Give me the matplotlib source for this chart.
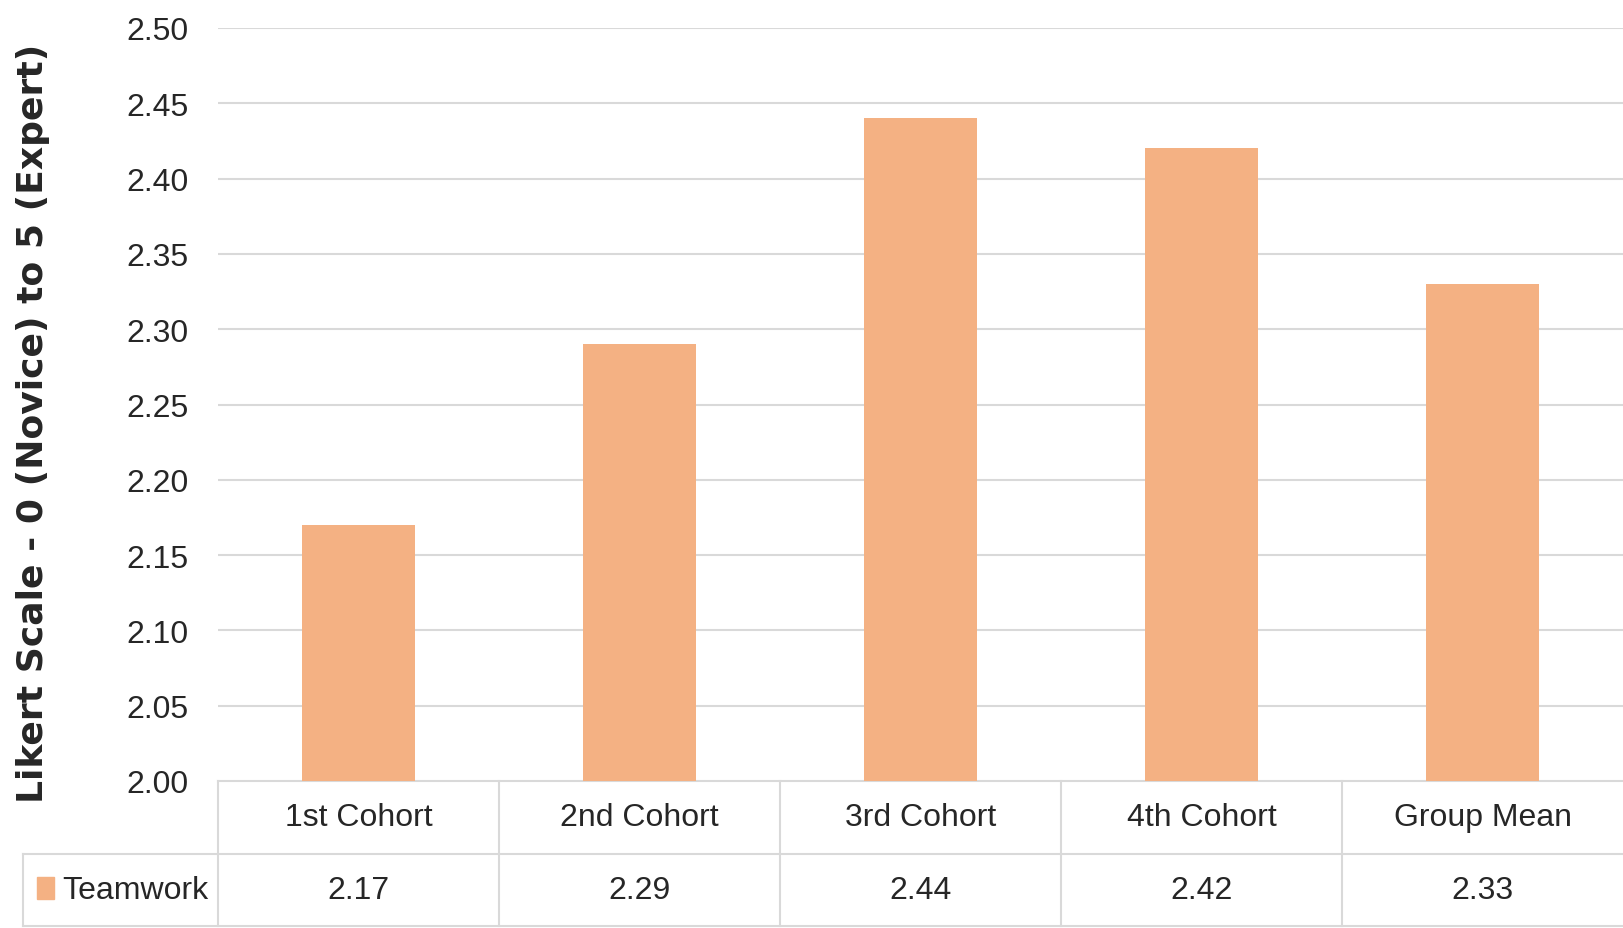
import matplotlib
matplotlib.use("Agg")
import matplotlib.pyplot as plt
from matplotlib.patches import Rectangle
from matplotlib.transforms import blended_transform_factory

categories = ["1st Cohort", "2nd Cohort", "3rd Cohort", "4th Cohort", "Group Mean"]
teamwork = [2.17, 2.29, 2.44, 2.42, 2.33]
series_name = "Teamwork"
yticks = [2.00, 2.05, 2.10, 2.15, 2.20, 2.25, 2.30, 2.35, 2.40, 2.45, 2.50]
ylabel = "Likert Scale - 0 (Novice) to 5 (Expert)"

bar_color = "#F4B183"
line_color = "#d9d9d9"
narrow = ["Liberation Sans", "DejaVu Sans"]
fs = 23

W, H = 1623, 929
fig = plt.figure(figsize=(W / 100, H / 100), dpi=100)
ax = fig.add_axes([218 / W, 1 - 782 / H, 1 - 218 / W, (782 - 29) / H])

x = list(range(len(categories)))
ax.bar(x, teamwork, width=0.4, color=bar_color, zorder=3)
ax.set_xlim(-0.5, len(categories) - 0.5)
ax.set_ylim(2.0, 2.5)
ax.set_yticks(yticks)
ax.set_yticklabels(["%.2f" % v for v in yticks], family=narrow, fontsize=fs, color="#262626")
ax.set_xticks([])
ax.tick_params(axis="y", length=0, pad=21)
for s in ax.spines.values():
    s.set_visible(False)
for v in yticks[1:]:
    ax.axhline(v, color=line_color, lw=1.5, zorder=1)

# data table under the plot
tr = blended_transform_factory(ax.transData, ax.transAxes)
row1 = -73 / 753
row2 = -145 / 753
x_left = -0.5 - (218 - 23) / 281.5
x_right = len(categories) - 0.5
kw = dict(color=line_color, lw=1.5, transform=tr, clip_on=False)
ax.plot([-0.5, x_right], [0, 0], **kw)
ax.plot([x_left, x_right], [row1, row1], **kw)
ax.plot([x_left, x_right], [row2, row2], **kw)
ax.plot([x_left, x_left], [row1, row2], **kw)
for i in range(len(categories)):
    ax.plot([i - 0.5, i - 0.5], [0, row2], **kw)

for i, (c, v) in enumerate(zip(categories, teamwork)):
    ax.text(i, row1 / 2, c, transform=tr, ha="center", va="center",
            family=narrow, fontsize=fs, color="#262626")
    ax.text(i, (row1 + row2) / 2, "%.2f" % v, transform=tr, ha="center", va="center",
            family=narrow, fontsize=fs, color="#262626")

# legend key in the table
fig.patches.append(Rectangle((37 / W, 1 - 900 / H), 17 / W, 22 / H,
                             transform=fig.transFigure, color=bar_color))
fig.text(62 / W, 1 - 891 / H, series_name, ha="left", va="center",
         family=narrow, fontsize=fs, color="#262626")

fig.text(33 / W, 1 - 423 / H, ylabel, rotation=90, ha="center", va="center",
         fontsize=26, fontweight="bold", color="#262626")

fig.savefig("out.png", dpi=100)
